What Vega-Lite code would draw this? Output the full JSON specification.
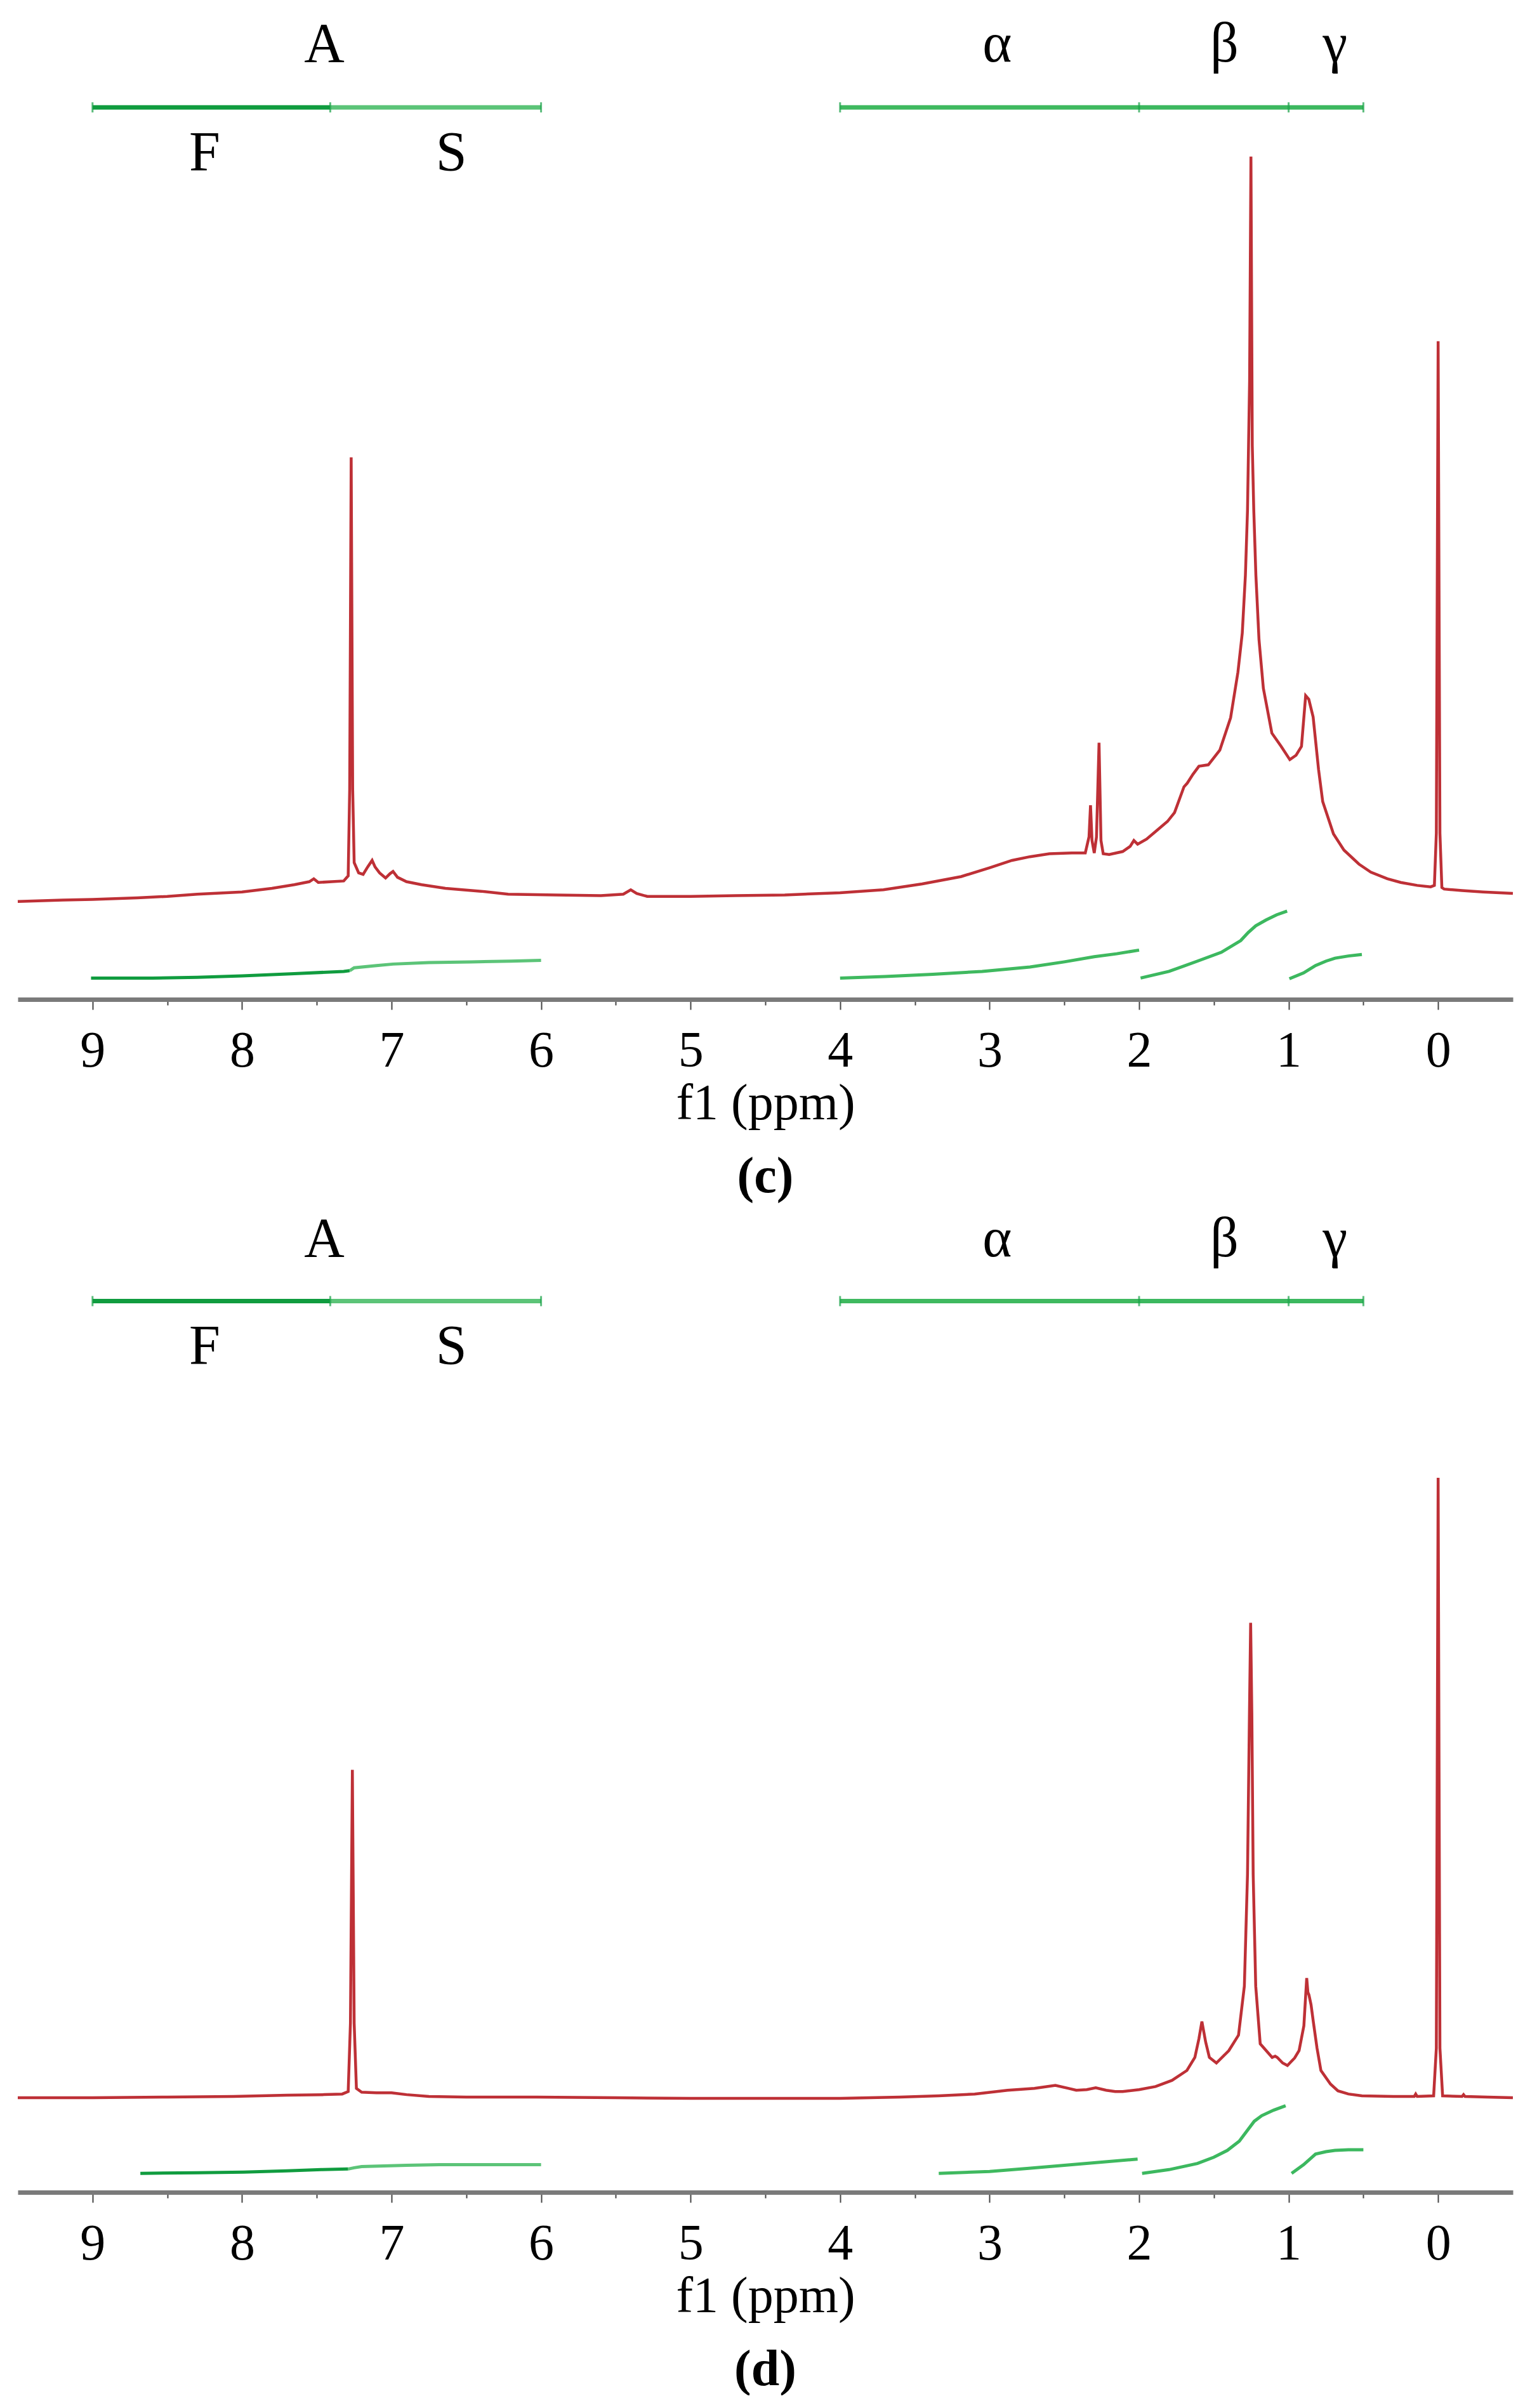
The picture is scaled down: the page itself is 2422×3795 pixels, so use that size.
{
  "$schema": "https://vega.github.io/schema/vega-lite/v6.json",
  "background": "white",
  "padding": {"left": 19, "top": 0, "right": 0, "bottom": 0},
  "spacing": 8,
  "config": {"view": {"stroke": null}, "font": "Liberation Serif"},
  "datasets": {
    "specC": [
      {"ppm": 9.5, "v": -1.3}, {"ppm": 9.2, "v": -1.1}, {"ppm": 9.0, "v": -1.0}, {"ppm": 8.7, "v": -0.8}, {"ppm": 8.5, "v": -0.6},
      {"ppm": 8.3, "v": -0.3}, {"ppm": 8.0, "v": 0.0}, {"ppm": 7.8, "v": 0.5}, {"ppm": 7.65, "v": 1.0}, {"ppm": 7.55, "v": 1.4},
      {"ppm": 7.52, "v": 1.8}, {"ppm": 7.49, "v": 1.3}, {"ppm": 7.4, "v": 1.4}, {"ppm": 7.32, "v": 1.5}, {"ppm": 7.29, "v": 2.2},
      {"ppm": 7.28, "v": 14}, {"ppm": 7.27, "v": 59.1}, {"ppm": 7.26, "v": 14}, {"ppm": 7.25, "v": 4.0}, {"ppm": 7.22, "v": 2.6},
      {"ppm": 7.19, "v": 2.4}, {"ppm": 7.16, "v": 3.4}, {"ppm": 7.13, "v": 4.3}, {"ppm": 7.11, "v": 3.4}, {"ppm": 7.08, "v": 2.6},
      {"ppm": 7.04, "v": 1.9}, {"ppm": 7.01, "v": 2.5}, {"ppm": 6.99, "v": 2.8}, {"ppm": 6.96, "v": 2.0}, {"ppm": 6.9, "v": 1.4},
      {"ppm": 6.8, "v": 1.0}, {"ppm": 6.64, "v": 0.5}, {"ppm": 6.4, "v": 0.1}, {"ppm": 6.22, "v": -0.3}, {"ppm": 5.9, "v": -0.4},
      {"ppm": 5.6, "v": -0.5}, {"ppm": 5.45, "v": -0.3}, {"ppm": 5.4, "v": 0.3}, {"ppm": 5.36, "v": -0.2}, {"ppm": 5.29, "v": -0.6},
      {"ppm": 5.0, "v": -0.6}, {"ppm": 4.7, "v": -0.5}, {"ppm": 4.37, "v": -0.4}, {"ppm": 4.0, "v": -0.1}, {"ppm": 3.71, "v": 0.3},
      {"ppm": 3.45, "v": 1.1}, {"ppm": 3.19, "v": 2.1}, {"ppm": 3.0, "v": 3.3}, {"ppm": 2.85, "v": 4.3}, {"ppm": 2.73, "v": 4.8},
      {"ppm": 2.6, "v": 5.2}, {"ppm": 2.45, "v": 5.3}, {"ppm": 2.36, "v": 5.3}, {"ppm": 2.335, "v": 7.5}, {"ppm": 2.325, "v": 11.8},
      {"ppm": 2.315, "v": 7.0}, {"ppm": 2.3, "v": 5.3}, {"ppm": 2.285, "v": 7.5}, {"ppm": 2.268, "v": 20.3}, {"ppm": 2.255, "v": 7.0},
      {"ppm": 2.24, "v": 5.2}, {"ppm": 2.2, "v": 5.1}, {"ppm": 2.11, "v": 5.5}, {"ppm": 2.06, "v": 6.2}, {"ppm": 2.035, "v": 7.0},
      {"ppm": 2.01, "v": 6.5}, {"ppm": 1.95, "v": 7.2}, {"ppm": 1.88, "v": 8.4}, {"ppm": 1.81, "v": 9.6}, {"ppm": 1.763, "v": 10.8},
      {"ppm": 1.7, "v": 14.3}, {"ppm": 1.678, "v": 14.8}, {"ppm": 1.64, "v": 16.0}, {"ppm": 1.6, "v": 17.1}, {"ppm": 1.537, "v": 17.3},
      {"ppm": 1.46, "v": 19.3}, {"ppm": 1.388, "v": 23.7}, {"ppm": 1.339, "v": 29.9}, {"ppm": 1.31, "v": 35.2}, {"ppm": 1.289, "v": 43.1},
      {"ppm": 1.275, "v": 51.9}, {"ppm": 1.268, "v": 60.7}, {"ppm": 1.261, "v": 69.5}, {"ppm": 1.252, "v": 100}, {"ppm": 1.243, "v": 60.7},
      {"ppm": 1.233, "v": 51.9}, {"ppm": 1.219, "v": 43.1}, {"ppm": 1.198, "v": 34.3}, {"ppm": 1.169, "v": 27.7}, {"ppm": 1.112, "v": 21.6},
      {"ppm": 1.05, "v": 19.8}, {"ppm": 0.992, "v": 18.0}, {"ppm": 0.95, "v": 18.6}, {"ppm": 0.914, "v": 19.8}, {"ppm": 0.886, "v": 26.7},
      {"ppm": 0.865, "v": 26.2}, {"ppm": 0.836, "v": 23.8}, {"ppm": 0.8, "v": 16.7}, {"ppm": 0.772, "v": 12.3}, {"ppm": 0.7, "v": 7.9},
      {"ppm": 0.63, "v": 5.7}, {"ppm": 0.53, "v": 3.8}, {"ppm": 0.45, "v": 2.7},
      {"ppm": 0.34, "v": 1.8}, {"ppm": 0.25, "v": 1.3}, {"ppm": 0.14, "v": 0.9}, {"ppm": 0.05, "v": 0.7}, {"ppm": 0.025, "v": 0.9},
      {"ppm": 0.012, "v": 8}, {"ppm": 0.0, "v": 74.9}, {"ppm": -0.012, "v": 8}, {"ppm": -0.025, "v": 0.6}, {"ppm": -0.04, "v": 0.4},
      {"ppm": -0.16, "v": 0.2}, {"ppm": -0.3, "v": 0.0}, {"ppm": -0.5, "v": -0.2}
    ],
    "specD": [
      {"ppm": 9.5, "v": 0.0}, {"ppm": 9.0, "v": 0.0}, {"ppm": 8.5, "v": 0.1}, {"ppm": 8.06, "v": 0.2}, {"ppm": 7.7, "v": 0.4},
      {"ppm": 7.45, "v": 0.5}, {"ppm": 7.33, "v": 0.6}, {"ppm": 7.29, "v": 1.0}, {"ppm": 7.275, "v": 12}, {"ppm": 7.262, "v": 52.9},
      {"ppm": 7.25, "v": 12}, {"ppm": 7.235, "v": 1.5}, {"ppm": 7.2, "v": 0.9}, {"ppm": 7.1, "v": 0.8}, {"ppm": 7.0, "v": 0.8},
      {"ppm": 6.9, "v": 0.5}, {"ppm": 6.75, "v": 0.2}, {"ppm": 6.5, "v": 0.1}, {"ppm": 6.03, "v": 0.1}, {"ppm": 5.5, "v": 0.0},
      {"ppm": 5.0, "v": -0.1}, {"ppm": 4.5, "v": -0.1}, {"ppm": 4.0, "v": -0.1}, {"ppm": 3.6, "v": 0.1}, {"ppm": 3.34, "v": 0.3},
      {"ppm": 3.1, "v": 0.6}, {"ppm": 2.88, "v": 1.2}, {"ppm": 2.7, "v": 1.5}, {"ppm": 2.56, "v": 2.0}, {"ppm": 2.47, "v": 1.5},
      {"ppm": 2.42, "v": 1.2}, {"ppm": 2.35, "v": 1.3}, {"ppm": 2.29, "v": 1.6}, {"ppm": 2.22, "v": 1.2}, {"ppm": 2.16, "v": 1.0},
      {"ppm": 2.11, "v": 1.0}, {"ppm": 2.0, "v": 1.3}, {"ppm": 1.89, "v": 1.8}, {"ppm": 1.78, "v": 2.8}, {"ppm": 1.68, "v": 4.4},
      {"ppm": 1.627, "v": 6.5}, {"ppm": 1.6, "v": 9.5}, {"ppm": 1.58, "v": 12.3}, {"ppm": 1.555, "v": 9.0}, {"ppm": 1.53, "v": 6.5},
      {"ppm": 1.483, "v": 5.6}, {"ppm": 1.4, "v": 7.6}, {"ppm": 1.335, "v": 10.1}, {"ppm": 1.296, "v": 18.0}, {"ppm": 1.275, "v": 36},
      {"ppm": 1.262, "v": 62}, {"ppm": 1.254, "v": 76.6}, {"ppm": 1.246, "v": 62}, {"ppm": 1.237, "v": 36}, {"ppm": 1.22, "v": 18},
      {"ppm": 1.19, "v": 8.7}, {"ppm": 1.11, "v": 6.5}, {"ppm": 1.09, "v": 6.7}, {"ppm": 1.076, "v": 6.5}, {"ppm": 1.04, "v": 5.6},
      {"ppm": 1.008, "v": 5.2}, {"ppm": 0.96, "v": 6.4}, {"ppm": 0.93, "v": 7.6}, {"ppm": 0.898, "v": 11.6}, {"ppm": 0.879, "v": 19.3},
      {"ppm": 0.871, "v": 17.0}, {"ppm": 0.864, "v": 16.6}, {"ppm": 0.85, "v": 15.0}, {"ppm": 0.835, "v": 12.3}, {"ppm": 0.81, "v": 8.0},
      {"ppm": 0.784, "v": 4.4}, {"ppm": 0.72, "v": 2.2}, {"ppm": 0.67, "v": 1.1}, {"ppm": 0.6, "v": 0.6}, {"ppm": 0.51, "v": 0.3},
      {"ppm": 0.3, "v": 0.2}, {"ppm": 0.16, "v": 0.2}, {"ppm": 0.15, "v": 0.6}, {"ppm": 0.14, "v": 0.2}, {"ppm": 0.03, "v": 0.3},
      {"ppm": 0.012, "v": 8}, {"ppm": 0.0, "v": 100}, {"ppm": -0.012, "v": 8}, {"ppm": -0.03, "v": 0.3}, {"ppm": -0.16, "v": 0.2},
      {"ppm": -0.17, "v": 0.5}, {"ppm": -0.18, "v": 0.2}, {"ppm": -0.33, "v": 0.1}, {"ppm": -0.5, "v": 0.0}
    ],
    "intC": [
      {"part": "F", "ppm": 9.01, "v": -11.7}, {"part": "F", "ppm": 8.6, "v": -11.7}, {"part": "F", "ppm": 8.3, "v": -11.6},
      {"part": "F", "ppm": 8.0, "v": -11.4}, {"part": "F", "ppm": 7.65, "v": -11.1}, {"part": "F", "ppm": 7.32, "v": -10.8},
      {"part": "F", "ppm": 7.28, "v": -10.7},
      {"part": "S", "ppm": 7.28, "v": -10.7}, {"part": "S", "ppm": 7.25, "v": -10.3}, {"part": "S", "ppm": 7.1, "v": -10.0},
      {"part": "S", "ppm": 6.99, "v": -9.8}, {"part": "S", "ppm": 6.75, "v": -9.6}, {"part": "S", "ppm": 6.47, "v": -9.5},
      {"part": "S", "ppm": 6.2, "v": -9.4}, {"part": "S", "ppm": 6.0, "v": -9.3},
      {"part": "α", "ppm": 4.0, "v": -11.7}, {"part": "α", "ppm": 3.7, "v": -11.5}, {"part": "α", "ppm": 3.38, "v": -11.2},
      {"part": "α", "ppm": 3.05, "v": -10.8}, {"part": "α", "ppm": 2.73, "v": -10.2}, {"part": "α", "ppm": 2.5, "v": -9.5},
      {"part": "α", "ppm": 2.3, "v": -8.8}, {"part": "α", "ppm": 2.15, "v": -8.4}, {"part": "α", "ppm": 2.0, "v": -7.9},
      {"part": "β", "ppm": 1.99, "v": -11.7}, {"part": "β", "ppm": 1.8, "v": -10.8}, {"part": "β", "ppm": 1.61, "v": -9.4},
      {"part": "β", "ppm": 1.45, "v": -8.2}, {"part": "β", "ppm": 1.32, "v": -6.6}, {"part": "β", "ppm": 1.27, "v": -5.5},
      {"part": "β", "ppm": 1.22, "v": -4.6}, {"part": "β", "ppm": 1.15, "v": -3.8}, {"part": "β", "ppm": 1.08, "v": -3.1},
      {"part": "β", "ppm": 1.01, "v": -2.6},
      {"part": "γ", "ppm": 0.995, "v": -11.8}, {"part": "γ", "ppm": 0.9, "v": -11.0}, {"part": "γ", "ppm": 0.82, "v": -10.0},
      {"part": "γ", "ppm": 0.75, "v": -9.4}, {"part": "γ", "ppm": 0.69, "v": -9.0}, {"part": "γ", "ppm": 0.6, "v": -8.7},
      {"part": "γ", "ppm": 0.51, "v": -8.5}
    ],
    "intD": [
      {"part": "F", "ppm": 8.68, "v": -12.2}, {"part": "F", "ppm": 8.3, "v": -12.1}, {"part": "F", "ppm": 7.99, "v": -12.0},
      {"part": "F", "ppm": 7.7, "v": -11.8}, {"part": "F", "ppm": 7.47, "v": -11.6}, {"part": "F", "ppm": 7.29, "v": -11.5},
      {"part": "S", "ppm": 7.29, "v": -11.5}, {"part": "S", "ppm": 7.25, "v": -11.3}, {"part": "S", "ppm": 7.2, "v": -11.1},
      {"part": "S", "ppm": 6.9, "v": -10.9}, {"part": "S", "ppm": 6.68, "v": -10.8}, {"part": "S", "ppm": 6.0, "v": -10.8},
      {"part": "α", "ppm": 3.34, "v": -12.2}, {"part": "α", "ppm": 3.0, "v": -11.9}, {"part": "α", "ppm": 2.75, "v": -11.4},
      {"part": "α", "ppm": 2.4, "v": -10.7}, {"part": "α", "ppm": 2.01, "v": -9.9},
      {"part": "β", "ppm": 1.98, "v": -12.2}, {"part": "β", "ppm": 1.8, "v": -11.6}, {"part": "β", "ppm": 1.61, "v": -10.6},
      {"part": "β", "ppm": 1.5, "v": -9.6}, {"part": "β", "ppm": 1.41, "v": -8.5}, {"part": "β", "ppm": 1.33, "v": -7.0},
      {"part": "β", "ppm": 1.28, "v": -5.4}, {"part": "β", "ppm": 1.23, "v": -3.8}, {"part": "β", "ppm": 1.18, "v": -2.9},
      {"part": "β", "ppm": 1.1, "v": -2.0}, {"part": "β", "ppm": 1.02, "v": -1.3},
      {"part": "γ", "ppm": 0.98, "v": -12.2}, {"part": "γ", "ppm": 0.9, "v": -10.8}, {"part": "γ", "ppm": 0.82, "v": -9.1},
      {"part": "γ", "ppm": 0.75, "v": -8.7}, {"part": "γ", "ppm": 0.69, "v": -8.5}, {"part": "γ", "ppm": 0.6, "v": -8.4},
      {"part": "γ", "ppm": 0.5, "v": -8.4}
    ],
    "bars": [
      {"part": "F", "ppm": 9.0, "ppm2": 7.41}, {"part": "S", "ppm": 7.41, "ppm2": 6.0},
      {"part": "α", "ppm": 4.0, "ppm2": 2.0}, {"part": "β", "ppm": 2.0, "ppm2": 1.0}, {"part": "γ", "ppm": 1.0, "ppm2": 0.5}
    ],
    "caps": [{"ppm": 9.0}, {"ppm": 7.41}, {"ppm": 6.0}, {"ppm": 4.0}, {"ppm": 2.0}, {"ppm": 1.0}, {"ppm": 0.5}],
    "labels": [
      {"label": "A", "ppm": 7.45, "row": "top"}, {"label": "α", "ppm": 2.95, "row": "top"},
      {"label": "β", "ppm": 1.43, "row": "top"}, {"label": "γ", "ppm": 0.69, "row": "top"},
      {"label": "F", "ppm": 8.25, "row": "low"}, {"label": "S", "ppm": 6.6, "row": "low"}
    ]
  },
  "vconcat": [
    {
      "width": 2356, "height": 1575,
      "title": {"text": "(c)", "orient": "bottom", "font": "Liberation Serif", "fontSize": 80, "fontWeight": "bold", "color": "#000", "offset": 37, "anchor": "middle"},
      "encoding": {
        "x": {"field": "ppm", "type": "quantitative", "scale": {"domain": [9.5, -0.5], "nice": false, "zero": false},
          "axis": {"title": "f1 (ppm)", "values": [9, 8.5, 8, 7.5, 7, 6.5, 6, 5.5, 5, 4.5, 4, 3.5, 3, 2.5, 2, 1.5, 1, 0.5, 0],
            "labelExpr": "datum.value % 1 == 0 ? datum.label : ''", "format": "~g", "grid": false,
            "domainColor": "#7a7a7a", "domainWidth": 7, "tickColor": "#444", "tickWidth": 2,
            "tickSize": {"condition": {"test": "datum.value % 1 == 0", "value": 16}, "value": 9},
            "labelFont": "Liberation Serif", "labelFontSize": 80, "labelColor": "#000", "labelPadding": 26,
            "labelFlush": false, "labelOverlap": false,
            "titleFont": "Liberation Serif", "titleFontSize": 80, "titleFontWeight": "normal", "titleColor": "#000", "titlePadding": 4}}
      },
      "layer": [
        {"data": {"name": "specC"}, "mark": {"type": "line", "color": "#be3036", "strokeWidth": 4.5},
          "encoding": {"y": {"field": "v", "type": "quantitative", "scale": {"domain": [-14.6, 121.3], "nice": false, "zero": false}, "axis": null}}},
        {"data": {"name": "intC"}, "mark": {"type": "line"},
          "encoding": {
            "y": {"field": "v", "type": "quantitative"},
            "color": {"field": "part", "type": "nominal", "scale": {"domain": ["F", "S", "α", "β", "γ"], "range": ["#109c3f", "#5cc478", "#3fb95f", "#3cb85f", "#3cb85f"]}, "legend": null},
            "strokeWidth": {"field": "part", "type": "nominal", "scale": {"domain": ["F", "S", "α", "β", "γ"], "range": [5, 5, 5, 3, 3]}, "legend": null}}},
        {"data": {"name": "bars"}, "mark": {"type": "rule", "strokeWidth": 7},
          "encoding": {"x2": {"field": "ppm2"}, "y": {"datum": 106.7},
            "color": {"field": "part", "type": "nominal", "legend": null}}},
        {"data": {"name": "caps"}, "mark": {"type": "tick", "orient": "vertical", "size": 16, "thickness": 3, "color": "#169f45"},
          "encoding": {"y": {"datum": 106.7}}},
        {"data": {"name": "labels"}, "transform": [{"filter": "datum.row == 'top'"}],
          "mark": {"type": "text", "fontSize": 88, "font": "Liberation Serif", "color": "#000", "baseline": "alphabetic", "align": "center"},
          "encoding": {"text": {"field": "label"}, "y": {"datum": 112.9}}},
        {"data": {"name": "labels"}, "transform": [{"filter": "datum.row == 'low'"}],
          "mark": {"type": "text", "fontSize": 88, "font": "Liberation Serif", "color": "#000", "baseline": "alphabetic", "align": "center"},
          "encoding": {"text": {"field": "label"}, "y": {"datum": 98.2}}}
      ]
    },
    {
      "width": 2356, "height": 1552,
      "title": {"text": "(d)", "orient": "bottom", "font": "Liberation Serif", "fontSize": 80, "fontWeight": "bold", "color": "#000", "offset": 37, "anchor": "middle"},
      "encoding": {
        "x": {"field": "ppm", "type": "quantitative", "scale": {"domain": [9.5, -0.5], "nice": false, "zero": false},
          "axis": {"title": "f1 (ppm)", "values": [9, 8.5, 8, 7.5, 7, 6.5, 6, 5.5, 5, 4.5, 4, 3.5, 3, 2.5, 2, 1.5, 1, 0.5, 0],
            "labelExpr": "datum.value % 1 == 0 ? datum.label : ''", "format": "~g", "grid": false,
            "domainColor": "#7a7a7a", "domainWidth": 7, "tickColor": "#444", "tickWidth": 2,
            "tickSize": {"condition": {"test": "datum.value % 1 == 0", "value": 16}, "value": 9},
            "labelFont": "Liberation Serif", "labelFontSize": 80, "labelColor": "#000", "labelPadding": 26,
            "labelFlush": false, "labelOverlap": false,
            "titleFont": "Liberation Serif", "titleFontSize": 80, "titleFontWeight": "normal", "titleColor": "#000", "titlePadding": 4}}
      },
      "layer": [
        {"data": {"name": "specD"}, "mark": {"type": "line", "color": "#be3036", "strokeWidth": 4.5},
          "encoding": {"y": {"field": "v", "type": "quantitative", "scale": {"domain": [-15.25, 143.6], "nice": false, "zero": false}, "axis": null}}},
        {"data": {"name": "intD"}, "mark": {"type": "line"},
          "encoding": {
            "y": {"field": "v", "type": "quantitative"},
            "color": {"field": "part", "type": "nominal", "scale": {"domain": ["F", "S", "α", "β", "γ"], "range": ["#109c3f", "#5cc478", "#3fb95f", "#3cb85f", "#3cb85f"]}, "legend": null},
            "strokeWidth": {"field": "part", "type": "nominal", "scale": {"domain": ["F", "S", "α", "β", "γ"], "range": [5, 5, 5, 3, 3]}, "legend": null}}},
        {"data": {"name": "bars"}, "mark": {"type": "rule", "strokeWidth": 7},
          "encoding": {"x2": {"field": "ppm2"}, "y": {"datum": 128.5},
            "color": {"field": "part", "type": "nominal", "legend": null}}},
        {"data": {"name": "caps"}, "mark": {"type": "tick", "orient": "vertical", "size": 16, "thickness": 3, "color": "#169f45"},
          "encoding": {"y": {"datum": 128.5}}},
        {"data": {"name": "labels"}, "transform": [{"filter": "datum.row == 'top'"}],
          "mark": {"type": "text", "fontSize": 88, "font": "Liberation Serif", "color": "#000", "baseline": "alphabetic", "align": "center"},
          "encoding": {"text": {"field": "label"}, "y": {"datum": 135.7}}},
        {"data": {"name": "labels"}, "transform": [{"filter": "datum.row == 'low'"}],
          "mark": {"type": "text", "fontSize": 88, "font": "Liberation Serif", "color": "#000", "baseline": "alphabetic", "align": "center"},
          "encoding": {"text": {"field": "label"}, "y": {"datum": 118.4}}}
      ]
    }
  ]
}
